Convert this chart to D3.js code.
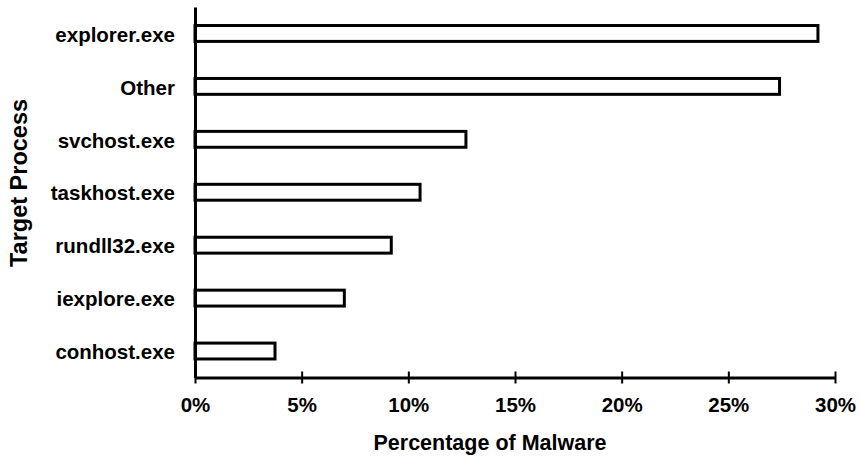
<!DOCTYPE html>
<html>
<head>
<meta charset="utf-8">
<script src="https://cdn.jsdelivr.net/npm/d3@7"></script>
<style>
  body { margin: 0; background: #fff; }
  text { font-family: "Liberation Sans", Arial, sans-serif; font-weight: bold; fill: #000; }
</style>
</head>
<body>
<div id="chart"></div>
<script>
// data
var processes = ["explorer.exe", "Other", "svchost.exe", "taskhost.exe", "rundll32.exe", "iexplore.exe", "conhost.exe"];
var shares = [29.2, 27.4, 12.7, 10.55, 9.2, 7.0, 3.75];
var xTicks = [0, 5, 10, 15, 20, 25, 30];

var W = 861, H = 459;
var margin = {left: 195, right: 835, top: 7, bottom: 377.5};

var svg = d3.select("#chart")
  .append("svg")
    .attr("width", W)
    .attr("height", H);

var x = d3.scaleLinear()
          .domain([0, 30])
          .range([margin.left, margin.right]);

var y = d3.scaleBand()
          .domain(processes)
          .range([margin.top, margin.bottom])
          .paddingInner(0.7)
          .paddingOuter(0.35);

// bars
svg.append("g")
  .selectAll("rect")
  .data(processes)
  .enter()
  .append("rect")
    .attr("x", x(0))
    .attr("y", function(d) { return y(d); })
    .attr("width", function(d, i) { return x(shares[i]) - x(0); })
    .attr("height", y.bandwidth())
    .style("fill", "#fff")
    .style("stroke", "#000")
    .style("stroke-width", 3);

// X axis
var xAxis = svg.append("g")
    .attr("transform", "translate(0," + margin.bottom + ")")
    .call(d3.axisBottom(x)
            .tickValues(xTicks)
            .tickSizeInner(6)
            .tickSizeOuter(0)
            .tickPadding(16)
            .tickFormat(function(d) { return d + "%"; }));
xAxis.select(".domain").attr("stroke-width", 3);
xAxis.selectAll(".tick line").attr("y1", -6).attr("stroke-width", 2);
xAxis.selectAll(".tick text")
    .attr("font-size", "20.5px")
    .attr("dy", "0.6em");

// Y axis
var yAxis = svg.append("g")
    .attr("transform", "translate(" + margin.left + ",0)")
    .call(d3.axisLeft(y).tickSize(0).tickSizeOuter(0).tickPadding(20));
yAxis.select(".domain").attr("stroke-width", 3);
yAxis.selectAll(".tick text")
    .attr("font-size", "20.5px")
    .attr("dy", "0.4em");
svg.selectAll("g").attr("font-family", null).attr("font-size", null);

// axis titles
svg.append("text")
    .attr("text-anchor", "middle")
    .attr("font-size", "21.5px")
    .attr("x", 490)
    .attr("y", 450)
    .text("Percentage of Malware");

svg.append("text")
    .attr("text-anchor", "middle")
    .attr("font-size", "23.5px")
    .attr("transform", "translate(27,183) rotate(-90)")
    .text("Target Process");
</script>
</body>
</html>
